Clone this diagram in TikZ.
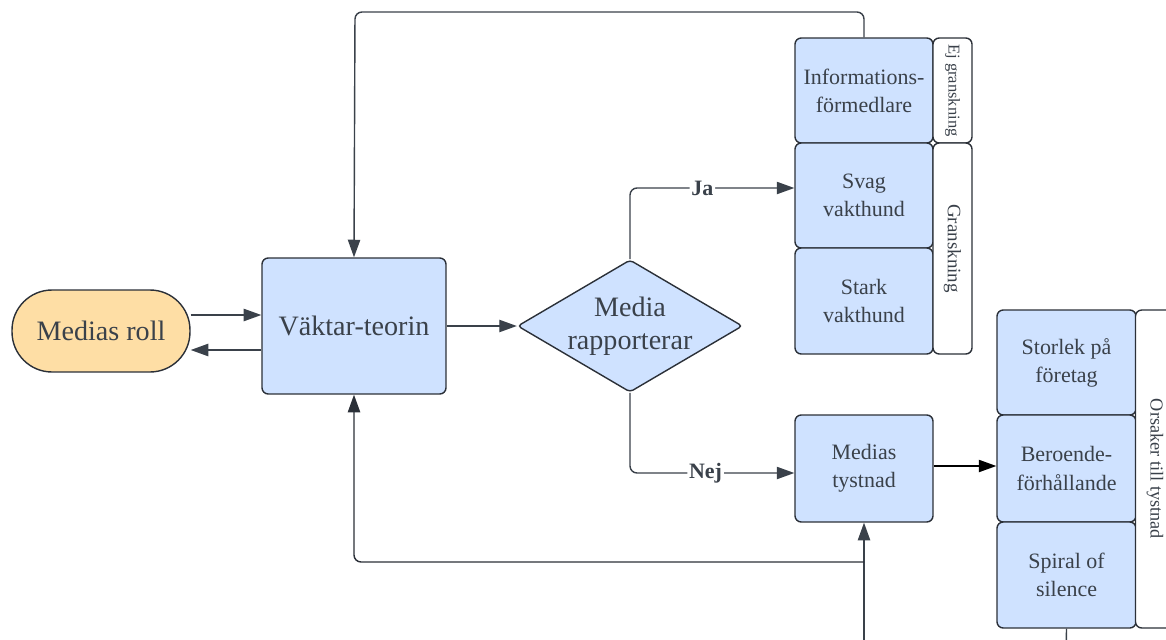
\documentclass[tikz,border=0pt]{standalone}
\usepackage{fontspec}
\setmainfont{Liberation Serif}
\usetikzlibrary{arrows.meta,shapes.geometric}

\definecolor{boxblue}{HTML}{CFE2FF}
\definecolor{rollorange}{HTML}{FEDEA5}
\definecolor{linegray}{HTML}{3A414A}
\definecolor{boxline}{HTML}{2B3038}

\begin{document}
\begin{tikzpicture}[x=0.02cm,y=-0.02cm,
  box/.style={draw=boxline, fill=boxblue, line width=0.8pt, rounded corners=3.5pt,
    text=linegray, align=center, inner sep=0pt, font=\fontsize{12.5}{16}\selectfont},
  sidebox/.style={draw=boxline, fill=white, line width=0.8pt, rounded corners=3.5pt,
    text=linegray, inner sep=0pt, rotate=-90, minimum height=0.78cm},
  arr/.style={draw=linegray, line width=0.8pt, rounded corners=4pt,
    -{Triangle[length=10pt,width=7pt]}},
  lbl/.style={fill=white, inner sep=1pt, text=linegray, font=\fontsize{12.5}{15}\selectfont\bfseries}]
\clip (0,0) rectangle (1166,639);

\node[box, fill=rollorange, rounded corners=0.8cm, minimum width=3.56cm, minimum height=1.64cm,
  font=\fontsize{16}{19}\selectfont] (roll) at (101,331) {Medias roll};
\node[box, minimum width=3.68cm, minimum height=2.72cm,
  font=\fontsize{16}{19}\selectfont] (vakt) at (354,326) {Väktar-teorin};
\node[box, diamond, aspect=1.7, rounded corners=2pt, minimum width=4.5cm, minimum height=2.64cm,
  font=\fontsize{16}{19}\selectfont] (rapp) at (630,326) {Media\\rapporterar};

\node[box, minimum width=2.76cm, minimum height=2.1cm] (info) at (864,90.5) {Informations-\\förmedlare};
\node[box, minimum width=2.76cm, minimum height=2.1cm] (svag) at (864,195.5) {Svag\\vakthund};
\node[box, minimum width=2.76cm, minimum height=2.12cm] (stark) at (864,301) {Stark\\vakthund};
\node[sidebox, minimum width=2.1cm, font=\fontsize{9.4}{11}\selectfont] (ejgr) at (952.5,90.5) {Ej granskning};
\node[sidebox, minimum width=4.22cm, font=\fontsize{10.8}{13}\selectfont] (gransk) at (952.5,248.5) {Granskning};

\node[box, minimum width=2.76cm, minimum height=2.14cm] (tyst) at (864,468.5) {Medias\\tystnad};
\node[box, minimum width=2.78cm, minimum height=2.1cm] (storlek) at (1066.5,362.5) {Storlek på\\företag};
\node[box, minimum width=2.78cm, minimum height=2.14cm] (beroende) at (1066.5,468.5) {Beroende-\\förhållande};
\node[box, minimum width=2.78cm, minimum height=2.12cm] (spiral) at (1066.5,575) {Spiral of\\silence};
\node[sidebox, minimum width=6.36cm, font=\fontsize{10.4}{13}\selectfont] (orsak) at (1155,469) {Orsaker till tystnad};

\coordinate (topturn) at (355,12);
\coordinate (branch) at (864,562);
\coordinate (inlet) at (864,660);
\coordinate (outlet) at (1066,660);

\draw[arr] ([yshift=0.32cm]roll.east) -- ([yshift=0.32cm]roll.east -| vakt.west);
\draw[arr] ([yshift=-0.48cm]vakt.west) -- ([yshift=-0.48cm]vakt.west -| roll.east);
\draw[arr] (vakt.east) -- (rapp.west);
\draw[arr] (rapp.north) |- node[lbl, pos=0.72] {Ja} ([yshift=0.15cm]svag.west);
\draw[arr] (rapp.south) |- node[lbl, pos=0.73] {Nej} ([yshift=-0.09cm]tyst.west);
\draw[arr, draw=black] ([yshift=0.05cm]tyst.east) -- ([yshift=0.05cm]tyst.east -| beroende.west);
\draw[arr] (info.north) |- (topturn) -- (vakt.north);
\draw[arr] (inlet) -- (tyst.south);
\draw[arr, draw=boxline] (branch) -| (vakt.south);
\draw[draw=linegray, line width=0.8pt] (spiral.south) -- (outlet);
\end{tikzpicture}
\end{document}
